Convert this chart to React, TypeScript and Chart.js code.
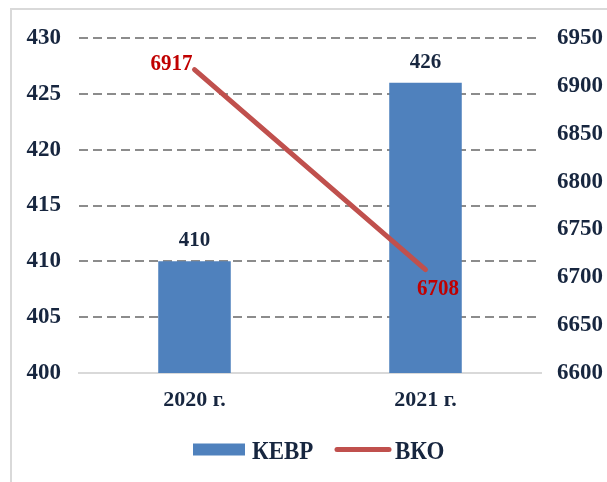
import { useEffect, useRef } from "react";
import { Chart, registerables } from "chart.js";

Chart.register(...registerables);

const categories = ["2020 г.", "2021 г."];
const kevrValues = [410, 426];
const vkoValues = [6917, 6708];
const seriesNames = ["КЕВР", "ВКО"];
const leftRange = { min: 400, max: 430, step: 5 };
const rightRange = { min: 6600, max: 6950, step: 50 };

const NAVY = "#17263F";
const BAR = "#4F81BD";
const LINE = "#C0504D";
const RED = "#C00000";
const FONT = '"Liberation Serif", "Times New Roman", serif';

function stretchedText(ctx: any, text: string, x: number, y: number, sy: number) {
  ctx.save();
  ctx.translate(x, y);
  ctx.scale(1, sy);
  ctx.fillText(text, 0, 0);
  ctx.restore();
}

const decorPlugin = {
  id: "decor",
  beforeDraw(chart: any) {
    const ctx = chart.ctx;
    ctx.save();
    ctx.strokeStyle = "#D9D9D9";
    ctx.lineWidth = 2;
    ctx.strokeRect(11, 9, 800, 800);
    ctx.restore();
  },
  afterDatasetsDraw(chart: any) {
    const ctx = chart.ctx;
    ctx.save();
    ctx.font = `bold 21px ${FONT}`;
    ctx.textBaseline = "alphabetic";
    ctx.fillStyle = NAVY;
    ctx.textAlign = "center";
    const barMeta = chart.getDatasetMeta(0);
    barMeta.data.forEach((el: any, i: number) => {
      ctx.fillText(String(kevrValues[i]), el.x, el.y - 15);
    });
    ctx.fillStyle = RED;
    const lineMeta = chart.getDatasetMeta(1);
    const place = [
      { dx: -2, dy: 0, align: "right" },
      { dx: -8.5, dy: 25.5, align: "left" },
    ];
    lineMeta.data.forEach((el: any, i: number) => {
      const p = place[i];
      ctx.textAlign = p.align;
      stretchedText(ctx, String(vkoValues[i]), el.x + p.dx, el.y + p.dy, 1.05);
    });
    ctx.restore();
  },
  afterDraw(chart: any) {
    const ctx = chart.ctx;
    ctx.save();
    ctx.font = `bold 23px ${FONT}`;
    ctx.textAlign = "left";
    ctx.textBaseline = "alphabetic";
    const cy = 449.5;
    ctx.fillStyle = BAR;
    ctx.fillRect(193, cy - 6, 52, 12);
    ctx.fillStyle = NAVY;
    stretchedText(ctx, seriesNames[0], 252, 459, 1.1);
    ctx.strokeStyle = LINE;
    ctx.lineWidth = 5;
    ctx.lineCap = "round";
    ctx.beginPath();
    ctx.moveTo(337, cy);
    ctx.lineTo(389, cy);
    ctx.stroke();
    ctx.fillStyle = NAVY;
    stretchedText(ctx, seriesNames[1], 395, 459, 1.1);
    ctx.restore();
  },
};

export default function App() {
  const ref = useRef<HTMLCanvasElement>(null);

  useEffect(() => {
    document.body.style.margin = "0";
    const canvas = ref.current!;
    const chart = new Chart(canvas, {
      type: "bar",
      data: {
        labels: categories,
        datasets: [
          {
            type: "bar",
            label: seriesNames[0],
            data: kevrValues,
            backgroundColor: BAR,
            borderWidth: 0,
            barPercentage: 0.314,
            categoryPercentage: 1,
            yAxisID: "y",
            order: 1,
          },
          {
            type: "line",
            label: seriesNames[1],
            data: vkoValues,
            borderColor: LINE,
            borderWidth: 5,
            borderCapStyle: "round",
            pointRadius: 0,
            yAxisID: "y1",
            order: 0,
          } as any,
        ],
      },
      options: {
        responsive: false,
        animation: false,
        layout: { padding: { top: 38, left: 0, right: 0, bottom: 0 } },
        plugins: {
          legend: { display: false },
          tooltip: { enabled: false },
        },
        scales: {
          x: {
            offset: true,
            grid: { display: false, drawTicks: false },
            border: { display: true, color: "#D9D9D9", width: 2 },
            ticks: {
              color: NAVY,
              font: { family: FONT, size: 22, weight: "bold" },
              padding: 14,
            },
            afterFit: (s: any) => {
              s.height = 109;
            },
          },
          y: {
            position: "left",
            min: leftRange.min,
            max: leftRange.max,
            ticks: {
              stepSize: leftRange.step,
              color: NAVY,
              font: { family: FONT, size: 23, weight: "bold" },
              padding: 18,
            },
            grid: {
              drawTicks: false,
              color: (c: any) => (c.tick && c.tick.value === leftRange.min ? "rgba(0,0,0,0)" : "#8C8C8C"),
              lineWidth: 2,
            },
            border: { display: false, dash: [9, 5] },
            afterFit: (s: any) => {
              s.width = 79;
            },
          },
          y1: {
            position: "right",
            min: rightRange.min,
            max: rightRange.max,
            ticks: {
              stepSize: rightRange.step,
              color: NAVY,
              font: { family: FONT, size: 23, weight: "bold" },
              padding: 16,
              callback: (v: any) => String(v),
            },
            grid: { display: false, drawTicks: false },
            border: { display: false },
            afterFit: (s: any) => {
              s.width = 66;
            },
          },
        },
      } as any,
      plugins: [decorPlugin],
    });
    return () => chart.destroy();
  }, []);

  return (
    <div style={{ position: "absolute", left: 0, top: 0, width: 607, height: 482, background: "#fff" }}>
      <canvas ref={ref} width={607} height={482} style={{ display: "block", width: 607, height: 482 }} />
    </div>
  );
}
